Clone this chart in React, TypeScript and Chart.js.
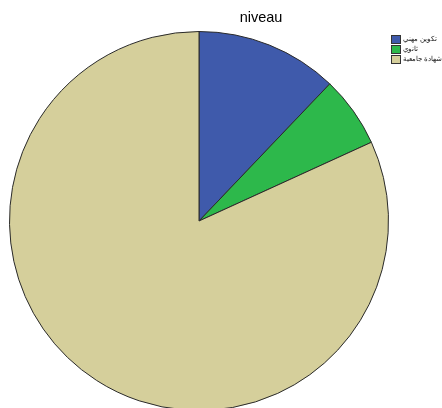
import React, { useEffect, useRef } from "react";
import { Chart, registerables } from "chart.js";

Chart.register(...registerables);

const categories = ["تكوين مهني", "ثانوي", "شهادة جامعية"];
const counts = [4, 2, 27];
const colors = ["#3f5aab", "#2db84b", "#d5cf9b"];
const titleText = "niveau";

export default function App() {
  const ref = useRef<HTMLCanvasElement | null>(null);
  useEffect(() => {
    if (!ref.current) return;
    const chart = new Chart(ref.current, {
      type: "pie",
      data: {
        labels: categories,
        datasets: [
          {
            data: counts,
            backgroundColor: colors,
            borderColor: "#2a2a2a",
            borderWidth: 1,
          },
        ],
      },
      options: {
        animation: false,
        responsive: false,
        maintainAspectRatio: false,
        layout: { padding: { left: 9, right: 53, top: 31, bottom: 9 } },
        plugins: {
          legend: { display: false },
          tooltip: { enabled: false },
          title: { display: false },
        },
      },
    });
    return () => chart.destroy();
  }, []);

  return (
    <div
      style={{
        position: "absolute",
        left: 0,
        top: 0,
        width: 442,
        height: 408,
        overflow: "hidden",
        background: "#fff",
        fontFamily: "'Liberation Sans', Arial, sans-serif",
      }}
    >
      <canvas
        ref={ref}
        width={442}
        height={420}
        style={{ position: "absolute", left: 0, top: 0, width: 442, height: 420 }}
      />
      <div
        style={{
          position: "absolute",
          left: 211,
          width: 100,
          top: 9,
          textAlign: "center",
          fontSize: 14.5,
          color: "#000",
        }}
      >
        {titleText}
      </div>
      <div style={{ position: "absolute", left: 391, top: 34 }}>
        {categories.map((c, i) => (
          <div
            key={c}
            style={{ display: "flex", alignItems: "center", height: 10, marginBottom: 0 }}
          >
            <div
              style={{
                width: 8,
                height: 7,
                background: colors[i],
                border: "1px solid #333",
                marginRight: 2,
                flexShrink: 0,
              }}
            />
            <span style={{ fontSize: 7, color: "#111", whiteSpace: "nowrap" }}>{c}</span>
          </div>
        ))}
      </div>
    </div>
  );
}
